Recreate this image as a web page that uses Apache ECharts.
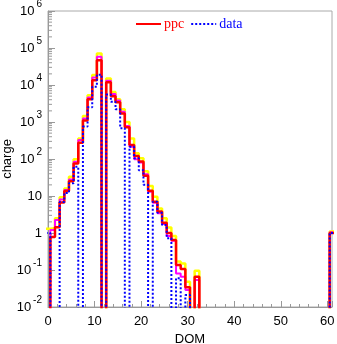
<!DOCTYPE html>
<html>
<head>
<meta charset="utf-8">
<script src="https://cdn.jsdelivr.net/npm/echarts@6/dist/echarts.min.js"></script>
<style>html,body{margin:0;padding:0;background:#fff;}#c{width:337px;height:344px;}</style>
</head>
<body>
<div id="c"></div>
<script>
// DOM bins 0..61 (bin k spans k-0.5 .. k+0.5); 0 = empty bin
const dom = Array.from({length: 62}, (_, i) => i);
const ppc = [0, 0.78, 1.43, 6.7, 13.6, 25, 76, 275, 1100, 4100, 13500, 47000, 0, 11800, 5000, 3400, 1700, 720, 240, 120, 85, 35, 13.9, 7.0, 3.8, 1.9, 1.0, 0.65, 0.137, 0.107, 0.034, 0, 0.066,
  0,0,0,0,0,0,0,0,0,0, 0,0,0,0,0,0,0,0,0,0, 0,0,0,0,0,0,0,0, 1.0];
const magenta = [0, 1.2, 2.25, 8.1, 14.5, 28, 84, 325, 1250, 4600, 16000, 58000, 0, 13000, 5700, 3800, 1900, 780, 215, 98, 80, 39, 13, 6.6, 3.4, 1.75, 0.83, 0.62, 0.081, 0.066, 0.029, 0, 0.054,
  0,0,0,0,0,0,0,0,0,0, 0,0,0,0,0,0,0,0,0,0, 0,0,0,0,0,0,0,0, 1.05];
const yellow = [1.3, 1.34, 2.5, 9.2, 16, 33, 98, 360, 1450, 5300, 18500, 71000, 0, 15000, 6500, 4100, 2200, 1000, 360, 142, 104, 47, 18.6, 9.6, 4.6, 2.5, 1.4, 0.83, 0.17, 0.15, 0.048, 0, 0.096,
  0,0,0,0,0,0,0,0,0,0, 0,0,0,0,0,0,0,0,0,0, 0,0,0,0,0,0,0,0, 1.1];
const data = [1.0, 0, 0, 6.9, 12, 22, 62, 0, 750, 2500, 9000, 19000, 0, 5500, 3500, 2200, 680, 0, 215, 105, 50, 20, 0, 7.0, 3.5, 1.65, 0.72, 0, 0.06, 0, 0.021, 0, 0,
  0,0,0,0,0,0,0,0,0,0, 0,0,0,0,0,0,0,0,0,0, 0,0,0,0,0,0,0,0, 1.0];
const yMinorMantissas = [2, 3, 4, 5, 6, 7, 8, 9];
const yDecades = [-2, -1, 0, 1, 2, 3, 4, 5];

const FLOOR = 1e-4; // below the axis minimum: empty bins drop off the frame
function steps(vals) {
  const pts = [];
  vals.forEach((v, i) => {
    const y = v > 0 ? v : FLOOR;
    pts.push([dom[i] - 0.5, y], [dom[i] + 0.5, y]);
  });
  return pts;
}
const minorVals = [];
yDecades.forEach(d => yMinorMantissas.forEach(m => minorVals.push([0, m * Math.pow(10, d)])));

const chart = echarts.init(document.getElementById('c'), null, {renderer: 'canvas'});
const sans = 'Liberation Sans';
const serif = 'Liberation Serif';
chart.setOption({
  animation: false,
  backgroundColor: '#fff',
  grid: {left: 48, right: 5, top: 11, bottom: 37, show: true, borderColor: '#aaa', borderWidth: 1,
    containLabel: false, outerBoundsMode: 'none'},
  legend: {
    data: [{name: 'ppc', textStyle: {color: '#ff0000'}}, {name: 'data', textStyle: {color: '#0000ff'}}],
    left: 130, top: 12, itemWidth: 25, itemHeight: 10, itemGap: 6,
    itemStyle: {opacity: 0},
    textStyle: {fontFamily: serif, fontSize: 14, padding: [0, 0, 0, -2]}
  },
  xAxis: {
    type: 'value', min: 0, max: 61, interval: 10,
    axisLine: {lineStyle: {color: '#999'}},
    axisTick: {inside: true, length: 6, lineStyle: {color: '#999'}},
    minorTick: {show: true, splitNumber: 5, length: 3, lineStyle: {color: '#999'}},
    splitLine: {show: false},
    axisLabel: {color: '#000', fontFamily: sans, fontSize: 13, margin: 8, showMaxLabel: false},
    name: 'DOM', nameLocation: 'middle', nameGap: 26, nameMoveOverlap: false,
    nameTextStyle: {color: '#000', fontFamily: sans, fontSize: 13}
  },
  yAxis: {
    type: 'log', logBase: 10, min: 0.01, max: 1e6, splitNumber: 8,
    axisLine: {lineStyle: {color: '#999'}},
    axisTick: {inside: true, length: 7, lineStyle: {color: '#999'}},
    splitLine: {show: false},
    axisLabel: {
      color: '#000', fontFamily: sans, fontSize: 13, margin: 6,
      formatter: function (v) {
        const e = Math.round(Math.log10(v));
        if (e === 0) return '1';
        if (e === 1) return '10';
        return '{b|10}{e|' + e + '}';
      },
      rich: {
        b: {fontFamily: sans, fontSize: 13, color: '#000'},
        e: {fontFamily: sans, fontSize: 10, color: '#000', padding: [0, 0, 14, 2]}
      }
    },
    name: 'charge', nameLocation: 'middle', nameGap: 34, nameRotate: 90, nameMoveOverlap: false,
    nameTextStyle: {color: '#000', fontFamily: sans, fontSize: 13}
  },
  series: [
    {name: 'yellow', type: 'line', data: steps(yellow), showSymbol: false, symbol: 'none', clip: true,
      lineStyle: {color: '#ffff00', width: 2.5}},
    {name: 'magenta', type: 'line', data: steps(magenta), showSymbol: false, symbol: 'none', clip: true,
      lineStyle: {color: '#ff00ff', width: 2}},
    {name: 'ppc', type: 'line', data: steps(ppc), showSymbol: false, symbol: 'none', clip: true,
      itemStyle: {color: '#ff0000'}, lineStyle: {color: '#ff0000', width: 2.5}},
    {name: 'data', type: 'line', data: steps(data), showSymbol: false, symbol: 'none', clip: true,
      itemStyle: {color: '#0000ff'}, lineStyle: {color: '#0000ff', width: 2, type: [2, 2]}},
    {name: 'yminor', type: 'custom', data: minorVals, silent: true, clip: true,
      renderItem: function (params, api) {
        const p = api.coord([api.value(0), api.value(1)]);
        return {type: 'line', shape: {x1: p[0], y1: p[1], x2: p[0] + 4, y2: p[1]},
          style: {stroke: '#999', lineWidth: 1}};
      }}
  ]
});
</script>
</body>
</html>
